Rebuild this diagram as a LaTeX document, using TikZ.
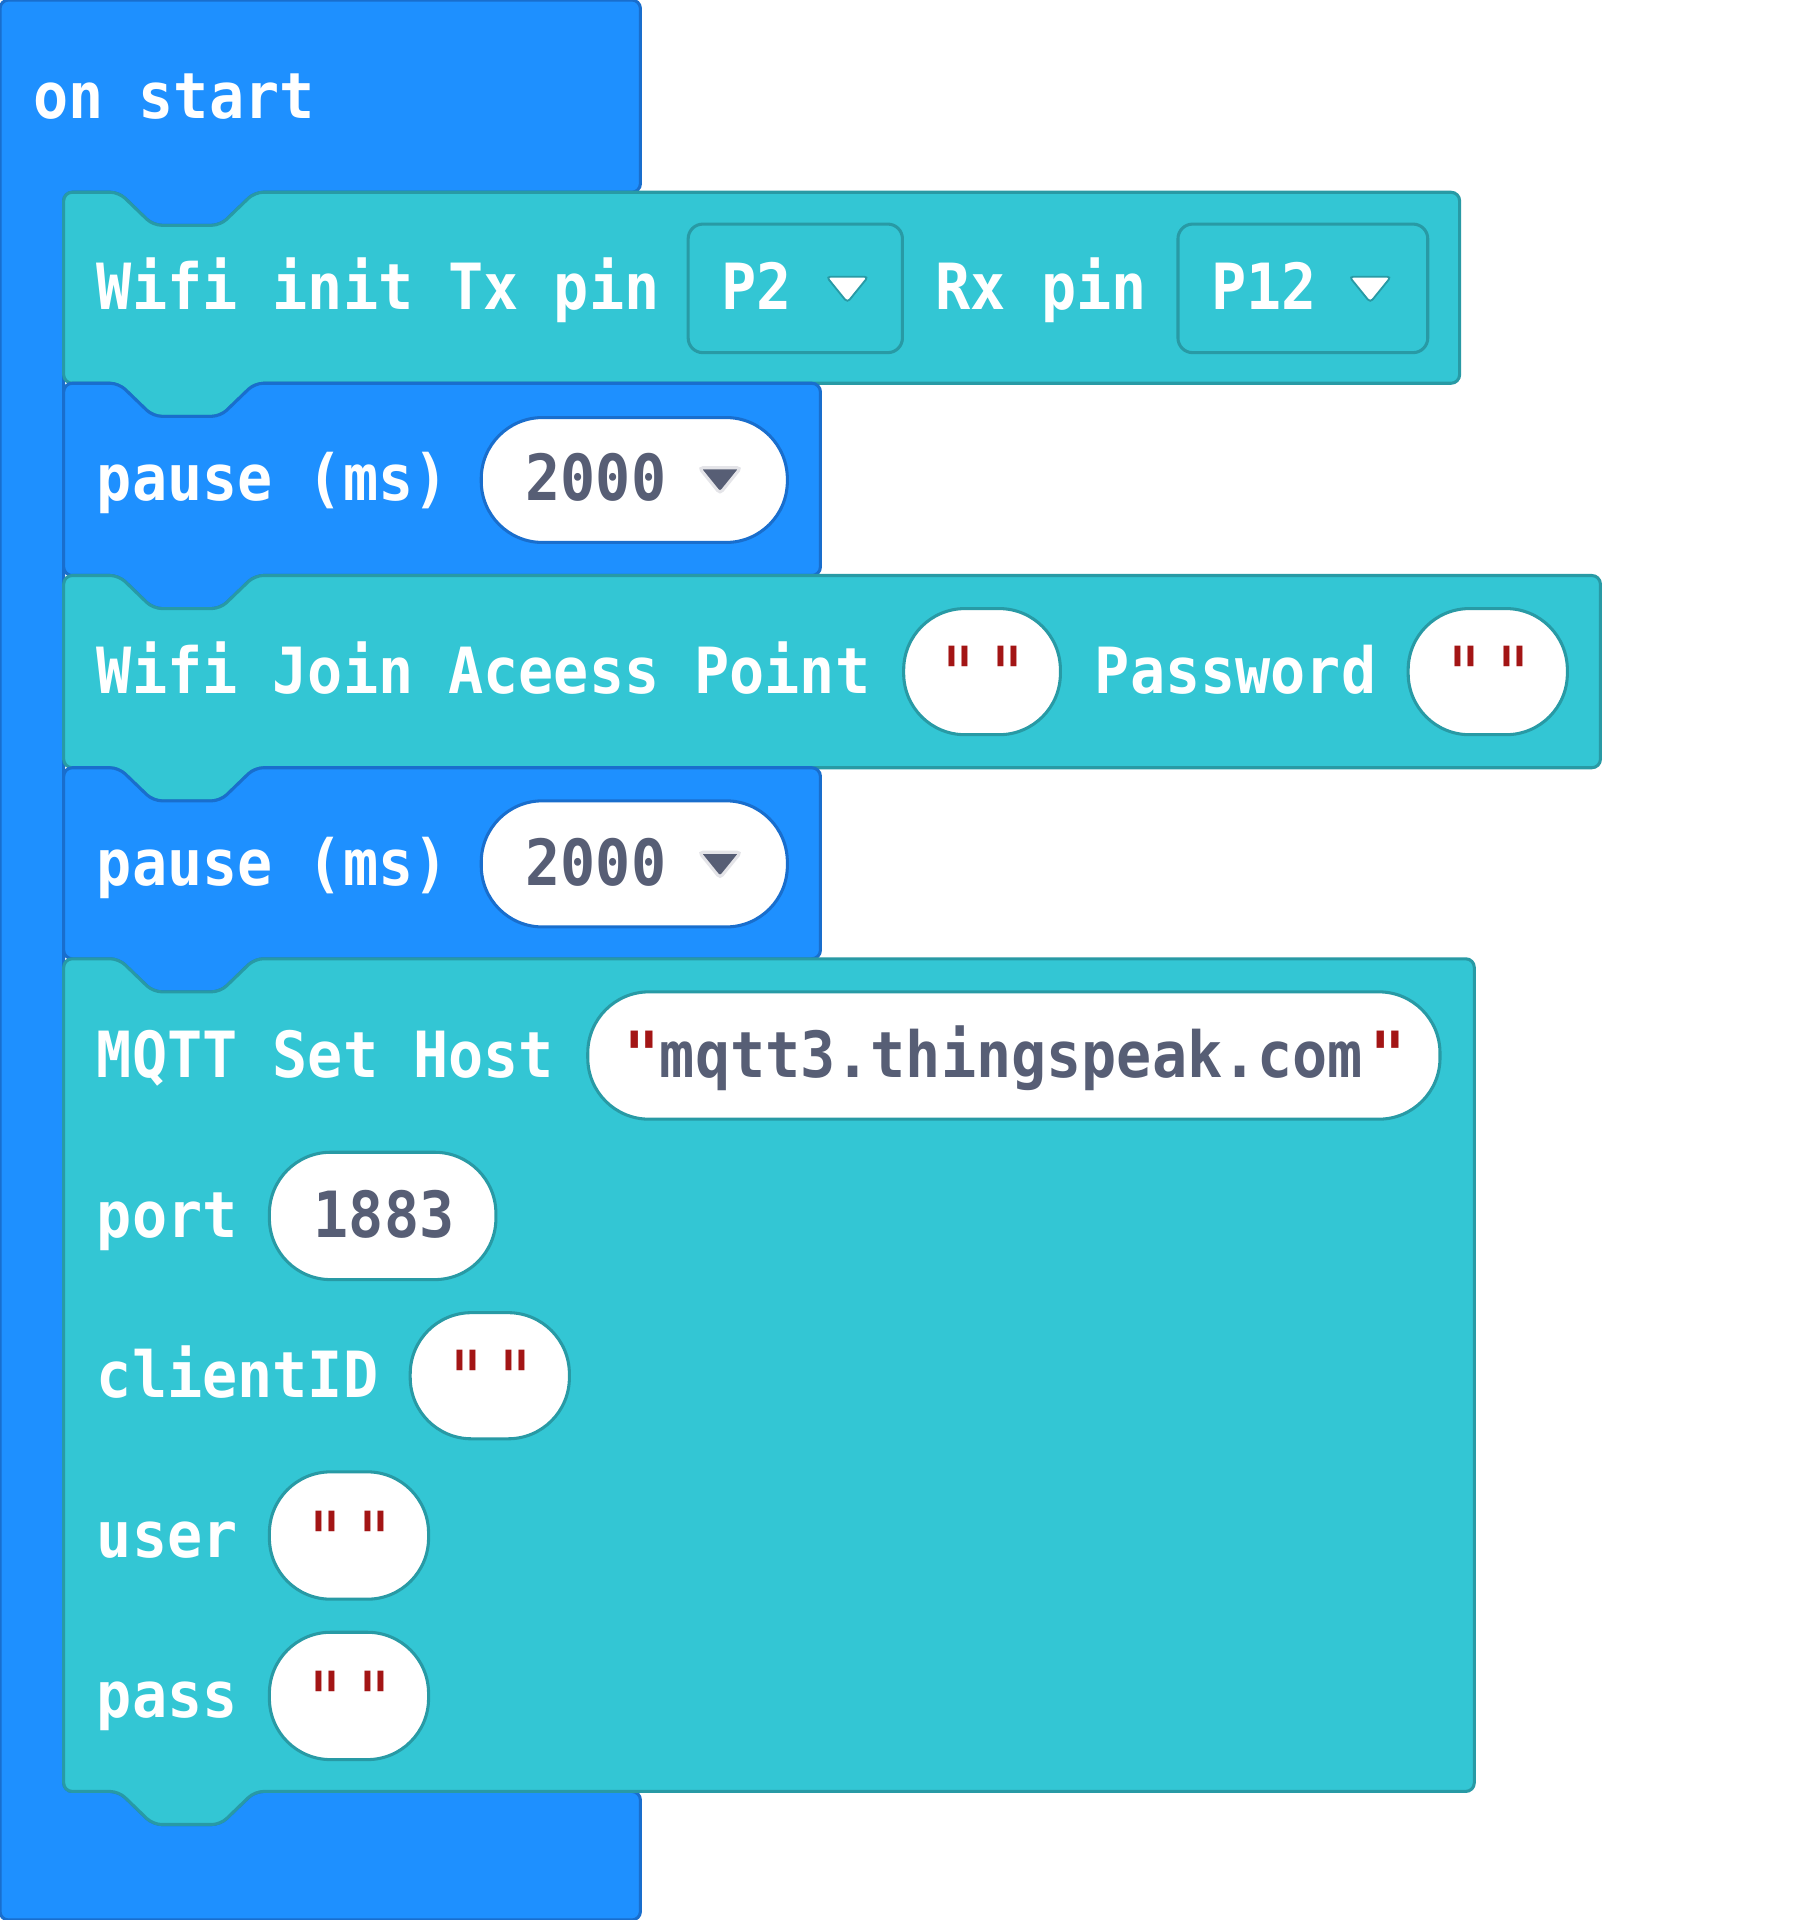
\documentclass[tikz,border=0pt]{standalone}
\usepackage{fontspec}
\usepackage{xcolor}
\usepackage{tikz}
\newfontfamily\blockfont{DejaVu Sans Mono}[FakeStretch=0.917]
\definecolor{blockblue}{RGB}{30,144,255}
\definecolor{blueedge}{RGB}{25,110,205}
\definecolor{blockteal}{RGB}{51,198,212}
\definecolor{tealedge}{RGB}{40,154,165}
\definecolor{valgray}{RGB}{87,94,117}
\definecolor{quotered}{RGB}{163,21,21}
\definecolor{arrowrim}{RGB}{228,228,232}

\tikzset{
  blueblock/.style={fill=blockblue, draw=blueedge, line width=2.5pt, rounded corners=7pt},
  tealblock/.style={fill=blockteal, draw=tealedge, line width=2.5pt, rounded corners=7pt},
  ddbox/.style={fill=blockteal, draw=tealedge, line width=2.5pt, rounded corners=12pt},
  bluepill/.style={fill=white, draw=blueedge, line width=2.5pt, rounded corners=50pt},
  tealpill/.style={fill=white, draw=tealedge, line width=2.5pt, rounded corners=50pt},
  whitearrow/.style={fill=white, draw=tealedge, line width=1.5pt, rounded corners=3pt},
  grayarrow/.style={fill=valgray, draw=arrowrim, line width=2.5pt, rounded corners=3pt},
  lbl/.style={text=white, anchor=base west, inner sep=0pt,
    font=\blockfont\bfseries\fontsize{52}{60}\selectfont},
  val/.style={lbl, text=valgray},
  qt/.style={lbl, anchor=base, text=quotered,
    font=\blockfont\fontsize{62}{60}\selectfont}
}

% statement block: style, top y, right x, bottom y
\newcommand{\stmtblock}[4]{%
  \draw[#1] (52,#2) -- (97,#2) -- (125,{#2+27}) -- (180,{#2+27}) -- (208,#2)
    -- (#3,#2) -- (#3,#4) -- (208,#4) -- (180,{#4+27}) -- (125,{#4+27})
    -- (97,#4) -- (52,#4) -- cycle;}

\begin{document}
\begin{tikzpicture}[x=1pt, y=-1pt]
  \useasboundingbox (0,0) rectangle (1476.6,1568);

  % on start
  \draw[blueblock] (0,0) -- (523,0) -- (523,157) -- (208,157) -- (180,184)
    -- (125,184) -- (97,157) -- (52,157) -- (52,1463) -- (97,1463)
    -- (125,1490) -- (180,1490) -- (208,1463) -- (523,1463) -- (523,1568)
    -- (0,1568) -- cycle;
  \node[lbl] (onstart) at (27,97) {on start};

  % wifi init
  \stmtblock{tealblock}{157}{1192}{313}
  \node[lbl] (txlbl) at (79,253) {Wifi init Tx pin};
  \draw[ddbox] (562,183) rectangle (737,288);
  \node[lbl] (txpin) at (589,253) {P2};
  \draw[whitearrow] (675,226) -- (709,226) -- (692,247) -- cycle;
  \node[lbl] (rxlbl) at (764,253) {Rx pin};
  \draw[ddbox] (962,183) rectangle (1166,288);
  \node[lbl] (rxpin) at (989,253) {P12};
  \draw[whitearrow] (1102,226) -- (1136,226) -- (1119,247) -- cycle;

  % pause 1
  \stmtblock{blueblock}{313}{670}{470}
  \node[lbl] (pauseA) at (79,409) {pause (ms)};
  \draw[bluepill] (393,341) rectangle (643,443);
  \node[val] (msA) at (429,409) {2000};
  \draw[grayarrow] (571,382) -- (605,382) -- (588,403) -- cycle;

  % wifi join
  \stmtblock{tealblock}{470}{1307}{627}
  \node[lbl] (joinlbl) at (79,566) {Wifi Join Aceess Point};
  \draw[tealpill] (738,497) rectangle (866,600);
  \node[qt] (ssid) at (803,573) {"\hspace{6pt}"};
  \node[lbl] (pwlbl) at (894,566) {Password};
  \draw[tealpill] (1150,497) rectangle (1280,600);
  \node[qt] (pw) at (1216,573) {"\hspace{6pt}"};

  % pause 2
  \stmtblock{blueblock}{627}{670}{783}
  \node[lbl] (pauseB) at (79,723) {pause (ms)};
  \draw[bluepill] (393,654) rectangle (643,757);
  \node[val] (msB) at (429,723) {2000};
  \draw[grayarrow] (571,696) -- (605,696) -- (588,717) -- cycle;

  % mqtt
  \stmtblock{tealblock}{783}{1204}{1463}
  \node[lbl] (hostlbl) at (79,880) {MQTT Set Host};
  \draw[tealpill] (480,810) rectangle (1176,914);
  \node[val] (host) at (510,880)
    {\textcolor{quotered}{"}mqtt3.thingspeak.com\hspace{6pt}\textcolor{quotered}{"}};
  \node[lbl] (portlbl) at (79,1011) {port};
  \draw[tealpill] (220,941) rectangle (405,1045);
  \node[val] (port) at (256,1011) {1883};
  \node[lbl] (idlbl) at (79,1141) {clientID};
  \draw[tealpill] (335,1072) rectangle (465,1175);
  \node[qt] (clientid) at (401,1148) {"\hspace{6pt}"};
  \node[lbl] (userlbl) at (79,1272) {user};
  \draw[tealpill] (220,1202) rectangle (350,1306);
  \node[qt] (user) at (286,1279) {"\hspace{6pt}"};
  \node[lbl] (passlbl) at (79,1403) {pass};
  \draw[tealpill] (220,1333) rectangle (350,1437);
  \node[qt] (pass) at (286,1410) {"\hspace{6pt}"};
\end{tikzpicture}
\end{document}
